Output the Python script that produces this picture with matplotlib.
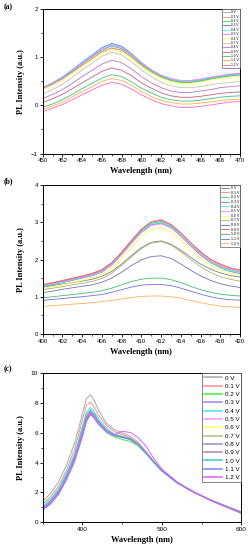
import matplotlib
matplotlib.use("Agg")
import matplotlib.pyplot as plt
from matplotlib.ticker import MultipleLocator

# voltage labels, same for all three panels
labels = ["0 V", "0.1 V", "0.2 V", "0.3 V", "0.4 V", "0.5 V", "0.6 V",
          "0.7 V", "0.8 V", "0.9 V", "1.0 V", "1.1 V", "1.2 V"]

# ---- panel (a) ----
wl_a = list(range(450, 471))
pl_a = [
    [0.35, 0.44, 0.55, 0.69, 0.84, 0.98, 1.12, 1.20, 1.15, 1.01, 0.84, 0.70, 0.59, 0.52, 0.48, 0.48, 0.51, 0.55, 0.58, 0.61, 0.63],
    [0.34, 0.43, 0.54, 0.68, 0.83, 0.97, 1.11, 1.19, 1.14, 1.00, 0.83, 0.69, 0.58, 0.51, 0.47, 0.47, 0.50, 0.54, 0.59, 0.62, 0.64],
    [0.36, 0.46, 0.57, 0.71, 0.87, 1.01, 1.15, 1.24, 1.18, 1.04, 0.86, 0.71, 0.60, 0.52, 0.48, 0.48, 0.51, 0.55, 0.59, 0.62, 0.64],
    [0.37, 0.47, 0.59, 0.74, 0.90, 1.05, 1.20, 1.29, 1.23, 1.08, 0.89, 0.74, 0.62, 0.54, 0.50, 0.50, 0.53, 0.57, 0.61, 0.64, 0.66],
    [0.37, 0.47, 0.59, 0.73, 0.89, 1.04, 1.18, 1.27, 1.21, 1.07, 0.88, 0.73, 0.62, 0.54, 0.50, 0.50, 0.53, 0.57, 0.60, 0.63, 0.65],
    [0.36, 0.46, 0.57, 0.72, 0.87, 1.02, 1.16, 1.25, 1.19, 1.06, 0.88, 0.74, 0.63, 0.56, 0.52, 0.52, 0.55, 0.59, 0.62, 0.65, 0.67],
    [0.33, 0.42, 0.53, 0.67, 0.81, 0.95, 1.09, 1.17, 1.12, 0.98, 0.81, 0.68, 0.57, 0.50, 0.46, 0.46, 0.49, 0.53, 0.56, 0.59, 0.61],
    [0.23, 0.33, 0.44, 0.58, 0.74, 0.88, 1.02, 1.11, 1.05, 0.91, 0.74, 0.60, 0.48, 0.41, 0.37, 0.37, 0.39, 0.43, 0.46, 0.48, 0.50],
    [0.14, 0.23, 0.33, 0.46, 0.60, 0.73, 0.86, 0.94, 0.89, 0.76, 0.60, 0.47, 0.37, 0.30, 0.27, 0.27, 0.30, 0.33, 0.37, 0.39, 0.41],
    [0.06, 0.14, 0.23, 0.35, 0.47, 0.59, 0.71, 0.78, 0.73, 0.62, 0.47, 0.36, 0.26, 0.20, 0.17, 0.17, 0.19, 0.22, 0.25, 0.27, 0.28],
    [-0.04, 0.03, 0.12, 0.23, 0.35, 0.46, 0.57, 0.64, 0.60, 0.49, 0.36, 0.26, 0.17, 0.12, 0.09, 0.09, 0.11, 0.14, 0.17, 0.19, 0.20],
    [-0.08, -0.01, 0.07, 0.18, 0.29, 0.39, 0.50, 0.56, 0.52, 0.42, 0.29, 0.19, 0.11, 0.06, 0.03, 0.03, 0.05, 0.07, 0.10, 0.12, 0.13],
    [-0.13, -0.06, 0.02, 0.12, 0.22, 0.32, 0.42, 0.48, 0.44, 0.34, 0.22, 0.12, 0.04, -0.01, -0.04, -0.04, -0.02, 0.01, 0.04, 0.07, 0.08],
]
colors_a = ["#a0a0a0", "#ff9090", "#30e030", "#6060ff", "#50f0f0", "#ff70ff",
            "#ffff50", "#c8c890", "#c070d0", "#c06080", "#40c080", "#ffb040", "#ff60c0"]

# ---- panel (b) ----
wl_b = list(range(400, 421))
pl_b = [
    [1.26, 1.30, 1.34, 1.38, 1.42, 1.47, 1.55, 1.68, 1.88, 2.11, 2.32, 2.46, 2.50, 2.41, 2.25, 2.06, 1.88, 1.74, 1.64, 1.57, 1.53],
    [1.33, 1.38, 1.44, 1.50, 1.56, 1.63, 1.73, 1.92, 2.20, 2.52, 2.82, 3.02, 3.07, 2.95, 2.72, 2.45, 2.20, 2.00, 1.86, 1.76, 1.70],
    [1.30, 1.35, 1.41, 1.47, 1.53, 1.60, 1.70, 1.88, 2.16, 2.48, 2.77, 2.97, 3.02, 2.90, 2.67, 2.40, 2.16, 1.96, 1.82, 1.72, 1.66],
    [1.27, 1.32, 1.38, 1.44, 1.50, 1.56, 1.66, 1.85, 2.13, 2.44, 2.73, 2.93, 2.98, 2.86, 2.63, 2.36, 2.12, 1.92, 1.78, 1.68, 1.62],
    [1.28, 1.33, 1.39, 1.45, 1.51, 1.58, 1.68, 1.86, 2.14, 2.46, 2.75, 2.95, 3.00, 2.88, 2.65, 2.38, 2.14, 1.94, 1.80, 1.70, 1.64],
    [1.31, 1.36, 1.41, 1.47, 1.53, 1.59, 1.69, 1.87, 2.14, 2.44, 2.72, 2.91, 2.96, 2.85, 2.63, 2.38, 2.15, 1.96, 1.83, 1.74, 1.68],
    [1.22, 1.27, 1.32, 1.38, 1.44, 1.50, 1.59, 1.77, 2.04, 2.33, 2.62, 2.80, 2.85, 2.74, 2.53, 2.27, 2.04, 1.86, 1.73, 1.64, 1.58],
    [1.19, 1.23, 1.27, 1.32, 1.36, 1.41, 1.49, 1.63, 1.84, 2.07, 2.29, 2.44, 2.48, 2.39, 2.21, 2.00, 1.81, 1.65, 1.54, 1.47, 1.42],
    [1.11, 1.15, 1.20, 1.24, 1.28, 1.32, 1.39, 1.50, 1.66, 1.84, 1.99, 2.08, 2.10, 2.03, 1.88, 1.71, 1.56, 1.44, 1.35, 1.29, 1.25],
    [1.32, 1.37, 1.43, 1.49, 1.55, 1.62, 1.72, 1.91, 2.19, 2.50, 2.80, 3.00, 3.05, 2.93, 2.71, 2.45, 2.21, 2.01, 1.88, 1.78, 1.72],
    [0.97, 1.00, 1.03, 1.06, 1.09, 1.12, 1.16, 1.23, 1.32, 1.41, 1.47, 1.50, 1.50, 1.46, 1.38, 1.28, 1.19, 1.12, 1.07, 1.04, 1.02],
    [0.90, 0.93, 0.95, 0.98, 1.00, 1.03, 1.06, 1.12, 1.19, 1.26, 1.31, 1.33, 1.33, 1.30, 1.23, 1.15, 1.07, 1.00, 0.95, 0.92, 0.91],
    [0.74, 0.76, 0.78, 0.80, 0.82, 0.84, 0.87, 0.90, 0.94, 0.98, 1.01, 1.02, 1.02, 1.00, 0.96, 0.90, 0.84, 0.79, 0.75, 0.73, 0.71],
]
colors_b = ["#808080", "#ff8080", "#30e060", "#8080e0", "#40f0f0", "#ff80ff",
            "#ffff40", "#b0b070", "#7070c0", "#e06070", "#40c070", "#7070e0", "#ffb060"]

# ---- panel (c) ----
wl_c = [350, 360, 370, 380, 390, 395, 400, 405, 410, 415, 420, 430,
        440, 450, 460, 470, 480, 490, 500, 520, 540, 560, 580, 600]
pl_c = [
    [1.37, 1.93, 2.71, 3.83, 5.29, 6.25, 7.31, 8.32, 8.55, 8.15, 7.53, 6.65, 6.22, 6.00, 5.76, 5.36, 4.73, 4.08, 3.50, 2.65, 2.04, 1.48, 1.08, 0.70],
    [1.20, 1.70, 2.42, 3.50, 4.90, 5.85, 6.90, 7.85, 8.05, 7.70, 7.20, 6.50, 6.08, 5.88, 5.66, 5.28, 4.69, 4.05, 3.47, 2.62, 2.02, 1.47, 1.05, 0.66],
    [0.90, 1.33, 2.00, 3.02, 4.25, 5.10, 5.98, 6.95, 7.30, 7.02, 6.58, 6.02, 5.72, 5.55, 5.42, 5.12, 4.58, 3.98, 3.42, 2.60, 2.02, 1.52, 1.08, 0.66],
    [0.82, 1.25, 1.90, 2.90, 4.10, 4.95, 5.80, 6.80, 7.25, 7.00, 6.60, 6.10, 5.82, 5.70, 5.56, 5.20, 4.64, 4.01, 3.44, 2.60, 2.00, 1.50, 1.05, 0.62],
    [1.10, 1.55, 2.25, 3.30, 4.60, 5.50, 6.45, 7.40, 7.70, 7.40, 6.95, 6.30, 5.92, 5.76, 5.60, 5.23, 4.66, 4.03, 3.45, 2.61, 2.02, 1.50, 1.06, 0.63],
    [0.95, 1.40, 2.08, 3.12, 4.38, 5.25, 6.15, 7.12, 7.45, 7.18, 6.75, 6.20, 5.86, 5.73, 5.58, 5.22, 4.65, 4.02, 3.45, 2.61, 2.01, 1.49, 1.04, 0.61],
    [0.92, 1.36, 2.03, 3.05, 4.30, 5.15, 6.05, 7.02, 7.35, 7.08, 6.66, 6.14, 5.84, 5.71, 5.57, 5.21, 4.65, 4.02, 3.45, 2.61, 2.02, 1.50, 1.06, 0.64],
    [0.90, 1.34, 2.01, 3.02, 4.27, 5.12, 6.02, 7.00, 7.35, 7.10, 6.68, 6.16, 5.85, 5.72, 5.58, 5.22, 4.66, 4.03, 3.46, 2.62, 2.03, 1.52, 1.08, 0.67],
    [0.88, 1.31, 1.97, 2.98, 4.22, 5.08, 5.98, 6.98, 7.40, 7.15, 6.72, 6.18, 5.87, 5.74, 5.60, 5.24, 4.67, 4.04, 3.46, 2.62, 2.02, 1.51, 1.07, 0.65],
    [0.93, 1.37, 2.04, 3.07, 4.33, 5.20, 6.10, 7.08, 7.45, 7.16, 6.72, 6.18, 5.86, 5.72, 5.57, 5.21, 4.64, 4.01, 3.44, 2.61, 2.01, 1.49, 1.04, 0.60],
    [1.00, 1.45, 2.14, 3.18, 4.46, 5.35, 6.28, 7.25, 7.55, 7.26, 6.82, 6.22, 5.88, 5.74, 5.58, 5.22, 4.64, 4.01, 3.43, 2.60, 2.00, 1.48, 1.03, 0.58],
    [0.80, 1.22, 1.86, 2.85, 4.05, 4.90, 5.75, 6.75, 7.22, 6.98, 6.58, 6.08, 5.80, 5.68, 5.54, 5.19, 4.63, 4.00, 3.44, 2.60, 2.00, 1.50, 1.05, 0.62],
    [0.86, 1.28, 1.94, 2.95, 4.18, 5.03, 5.90, 6.90, 7.30, 7.05, 6.65, 6.15, 5.88, 6.10, 6.02, 5.68, 5.10, 4.25, 3.55, 2.65, 2.02, 1.48, 1.03, 0.58],
]
colors_c = ["#a8a8a8", "#ff8c8c", "#40f040", "#8c8cf0", "#40e8e8", "#ff90ff",
            "#ffff60", "#b8b880", "#9090d0", "#c080a0", "#40c8c8", "#8080ff", "#e060ff"]

serif = "Liberation Serif"
sans = "Liberation Sans"


def style_axis(ax, xlim, ylim, xmaj, xmin, ymaj, ymin):
    ax.set_xlim(*xlim)
    ax.set_ylim(*ylim)
    ax.xaxis.set_major_locator(MultipleLocator(xmaj))
    ax.xaxis.set_minor_locator(MultipleLocator(xmin))
    ax.yaxis.set_major_locator(MultipleLocator(ymaj))
    ax.yaxis.set_minor_locator(MultipleLocator(ymin))
    ax.tick_params(which="major", direction="out", length=2.2, width=0.6,
                   labelsize=4.3, pad=1.2)
    ax.tick_params(which="minor", direction="out", length=1.3, width=0.5)
    for lab in ax.get_xticklabels() + ax.get_yticklabels():
        lab.set_family(sans)
    for sp in ax.spines.values():
        sp.set_linewidth(0.7)
    ax.set_xlabel("Wavelength (nm)", family=serif, fontweight="bold",
                  fontsize=6, labelpad=3)
    ax.set_ylabel("PL Intensity (a.u.)", family=serif, fontweight="bold",
                  fontsize=6)
    ax.yaxis.set_label_coords(-0.09, 0.5)


def small_legend(ax, size, spacing):
    leg = ax.legend(loc="upper right", bbox_to_anchor=(1, 1), borderaxespad=0,
                    prop={"family": sans, "size": size}, frameon=True,
                    fancybox=False, edgecolor="#606060", framealpha=1,
                    handlelength=2.2, handletextpad=0.5, labelspacing=spacing,
                    borderpad=0.3)
    leg.get_frame().set_linewidth(0.5)
    return leg


fig = plt.figure(figsize=(2.51, 5.50), dpi=100)

left = 42.7 / 251
width = (240 - 42.7) / 251

# (a)
ax_a = fig.add_axes([left, 1 - 153.5 / 550, width, 144.2 / 550])
for y, c, lab in zip(pl_a, colors_a, labels):
    ax_a.plot(wl_a, y, color=c, lw=0.6, label=lab)
style_axis(ax_a, (450, 470), (-1, 2), 2, 1, 1, 0.5)
small_legend(ax_a, 2.3, 0.12)

# (b)
ax_b = fig.add_axes([left, 1 - 334 / 550, width, 149 / 550])
for y, c, lab in zip(pl_b, colors_b, labels):
    ax_b.plot(wl_b, y, color=c, lw=0.6, label=lab)
style_axis(ax_b, (400, 420), (0, 4), 2, 1, 1, 0.5)
small_legend(ax_b, 2.5, 0.18)

# (c)
ax_c = fig.add_axes([left, 1 - 522 / 550, (241.5 - 42.7) / 251, 148.7 / 550])
for y, c, lab in zip(pl_c, colors_c, labels):
    ax_c.plot(wl_c, y, color=c, lw=0.7, label=lab)
style_axis(ax_c, (350, 600), (0, 10), 100, 50, 2, 1)
ax_c.tick_params(which="major", labelsize=4.6)
leg = ax_c.legend(loc="upper right", bbox_to_anchor=(1, 1), borderaxespad=0,
                  prop={"family": sans, "size": 4.5}, frameon=True,
                  fancybox=False, edgecolor="#505050", framealpha=1,
                  handlelength=3.0, handletextpad=0.4, labelspacing=0.47,
                  borderpad=0.3)
leg.get_frame().set_linewidth(0.5)
for line in leg.get_lines():
    line.set_linewidth(1.1)

# panel letters
for txt, ypx in [("(a)", 7), ("(b)", 181), ("(c)", 369)]:
    fig.text(4 / 251, 1 - ypx / 550, txt, family=serif, fontweight="bold",
             fontsize=5.5, va="center", ha="left")

fig.savefig("out.png", dpi=100)
